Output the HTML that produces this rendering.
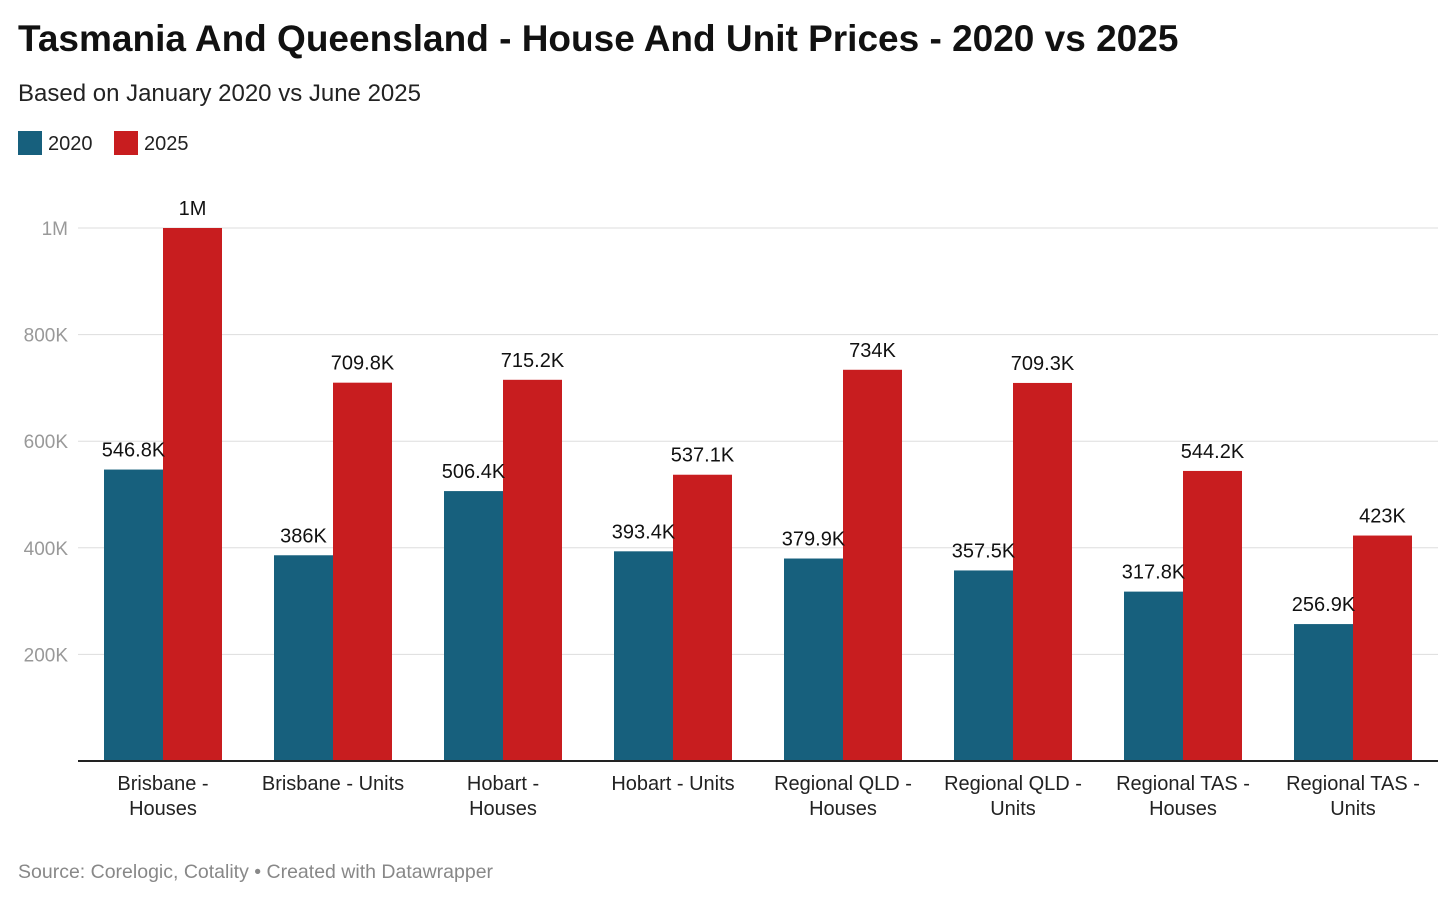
<!DOCTYPE html>
<html><head><meta charset="utf-8"><style>
body{margin:0;background:#fff;font-family:"Liberation Sans",sans-serif;width:1456px;height:902px;overflow:hidden;position:relative}
.t{position:absolute;white-space:nowrap}
</style></head><body>
<div class="t" style="left:18px;top:18px;font-size:37px;font-weight:bold;color:#111">Tasmania And Queensland - House And Unit Prices - 2020 vs 2025</div>
<div class="t" style="left:18px;top:80px;font-size:24px;color:#222">Based on January 2020 vs June 2025</div>
<div class="t" style="left:18px;top:131px;font-size:20px;color:#222"><span style="display:inline-block;width:24px;height:24px;background:#17607d;vertical-align:-5px;margin-right:6px"></span>2020</div>
<div class="t" style="left:114px;top:131px;font-size:20px;color:#222"><span style="display:inline-block;width:24px;height:24px;background:#c81d1f;vertical-align:-5px;margin-right:6px"></span>2025</div>
<svg id="chart" width="1456" height="902" style="position:absolute;left:0;top:0" font-family="Liberation Sans, sans-serif"></svg>
<div class="t" style="left:18px;top:861px;font-size:19.5px;color:#888">Source: Corelogic, Cotality • Created with Datawrapper</div>
<script>
const categories=[["Brisbane -","Houses"],["Brisbane - Units"],["Hobart -","Houses"],["Hobart - Units"],["Regional QLD -","Houses"],["Regional QLD -","Units"],["Regional TAS -","Houses"],["Regional TAS -","Units"]];
const values2020=[546.8,386,506.4,393.4,379.9,357.5,317.8,256.9];
const values2025=[1000,709.8,715.2,537.1,734,709.3,544.2,423];
const labels2020=["546.8K","386K","506.4K","393.4K","379.9K","357.5K","317.8K","256.9K"];
const labels2025=["1M","709.8K","715.2K","537.1K","734K","709.3K","544.2K","423K"];
const ticks=[200,400,600,800,1000];
const tickLabels=["200K","400K","600K","800K","1M"];
const svg=document.getElementById('chart');const NS="http://www.w3.org/2000/svg";
const y=v=>761-v*0.533;const cx=i=>163+i*170;const bw=59;
function mk(t,a,txt){const e=document.createElementNS(NS,t);for(const k in a)e.setAttribute(k,a[k]);if(txt!==undefined)e.textContent=txt;svg.appendChild(e);return e;}
ticks.forEach((t,i)=>{
const g=mk('line',{x1:78,x2:1438,y1:y(t),y2:y(t),stroke:'#ddd','stroke-width':1});


const l=mk('text',{x:68,y:y(t)+7,'text-anchor':'end','font-size':19,fill:'#999'},tickLabels[i]);


});
categories.forEach((c,i)=>{
const b1=mk('rect',{x:cx(i)-bw,y:y(values2020[i]),width:bw,height:761-y(values2020[i]),fill:'#17607d'});


const b2=mk('rect',{x:cx(i),y:y(values2025[i]),width:bw,height:761-y(values2025[i]),fill:'#c81d1f'});


const v1=mk('text',{x:cx(i)-bw/2,y:y(values2020[i])-13,'text-anchor':'middle','font-size':20,fill:'#111'},labels2020[i]);


const v2=mk('text',{x:cx(i)+bw/2,y:y(values2025[i])-13,'text-anchor':'middle','font-size':20,fill:'#111'},labels2025[i]);


c.forEach((line,j)=>{
const t=mk('text',{x:cx(i),y:790+j*25,'text-anchor':'middle','font-size':20,fill:'#222'},line);


});
});
const ax=mk('line',{x1:78,x2:1438,y1:761,y2:761,stroke:'#222','stroke-width':2});


</script>
</body></html>
